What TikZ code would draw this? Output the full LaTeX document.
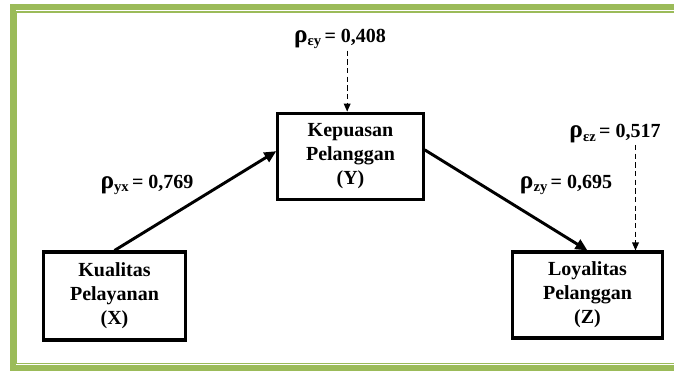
\documentclass[tikz,border=0pt]{standalone}
\usepackage{fontspec}
\setmainfont{Liberation Serif}
\usetikzlibrary{positioning,arrows.meta}

\definecolor{framegreen}{HTML}{9BBB59}

% path coefficient: rho, subscript, value
\newcommand{\pcoef}[2]{{\fontsize{19}{19}\selectfont ρ}\raisebox{-0.4ex}{\fontsize{11}{11}\selectfont #1}\,= #2}

\begin{document}
\begin{tikzpicture}[
 x=0.75pt, y=-0.75pt,
 var/.style={rectangle, draw, line width=2.3pt, align=center, inner sep=0pt, font=\fontsize{15}{18}\selectfont\bfseries},
 coef/.style={font=\fontsize{15}{17}\selectfont\bfseries, inner sep=1pt},
 patharrow/.style={-{Triangle[length=9pt,width=8pt]}, line width=2.2pt},
 errarrow/.style={-{Triangle[length=6pt,width=5pt]}, dash pattern=on 4pt off 2.5pt, line width=0.9pt}
 ]
 \clip (0,0) rectangle (674,371);
 \useasboundingbox (0,0) rectangle (674,371);

 % Frame
 \draw[framegreen, line width=4.5pt] (12.5,7) rectangle (700,368);
 \draw[framegreen, line width=1pt] (16.5,12) rectangle (700,363.5);

 % Variables
 \node[var, minimum width=107pt, minimum height=66pt] (X) at (114.5,296) {Kualitas\\Pelayanan\\(X)};
 \node[var, minimum width=109pt, minimum height=65pt] (Y) at (350.5,156.5) {Kepuasan\\Pelanggan\\(Y)};
 \node[var, minimum width=112pt, minimum height=64.5pt] (Z) at (587.5,295) {Loyalitas\\Pelanggan\\(Z)};

 % Coefficients
 \node[coef] (yx) at (147,185) {\pcoef{yx}{0,769}};
 \node[coef] (zy) at (566,185) {\pcoef{zy}{0,695}};
 \node[coef] (ey) at (340,39) {\pcoef{εy}{0,408}};
 \node[coef] (ez) at (615,134) {\pcoef{εz}{0,517}};
 \coordinate (ein) at ([xshift=-2.5pt]Y.north);
 \coordinate (zin) at ([xshift=36pt]Z.north);

 % Paths
 \draw[patharrow] (X.north) -- ([yshift=4pt]Y.west);
 \draw[patharrow] ([yshift=5pt]Y.east) -- (Z.north);

 % Errors
 \draw[errarrow] (ein |- ey.south) -- (ein);
 \draw[errarrow] (zin |- ez.south) -- (zin);
\end{tikzpicture}
\end{document}
